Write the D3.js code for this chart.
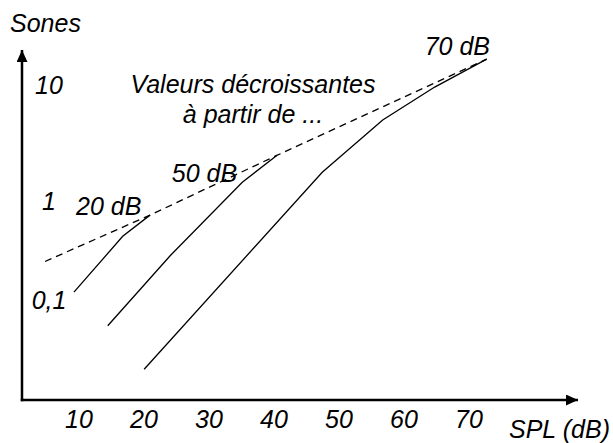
<!DOCTYPE html>
<html>
<head>
<meta charset="utf-8">
<script src="https://cdn.jsdelivr.net/npm/d3@7"></script>
<style>
  html, body { margin: 0; padding: 0; background: #fff; }
  svg text { font-family: "Liberation Sans", Arial, Helvetica, sans-serif; font-style: italic; font-size: 25px; fill: #000; }
</style>
</head>
<body>
<svg id="chart" width="613" height="443"></svg>
<script>
// ---- data ----
const xTicks = [10, 20, 30, 40, 50, 60, 70];
const yTicks = [10, 1, 0.1];
const yTickLabels = ["10", "1", "0,1"];
const xTitle = "SPL (dB)";
const yTitle = "Sones";

// curves : SPL (dB) vs sones
const curve20 = [[9.3, 0.12], [16.8, 0.44], [21.0, 0.72]];
const curve50 = [[14.5, 0.055], [24.1, 0.28], [35.2, 1.45], [40.5, 2.47]];
const curve70 = [[20.1, 0.020], [47.5, 1.77], [56.8, 5.0], [64.8, 9.6], [72.8, 16.7]];
// envelope (dashed) through the maxima
const envelope = [[4.85, 0.245], [21.0, 0.72], [40.5, 2.47], [72.8, 16.7]];

const curveLabels = [
  { text: "20 dB", x: 21.0, y: 0.72 },
  { text: "50 dB", x: 40.5, y: 2.47 },
  { text: "70 dB", x: 72.8, y: 16.7 }
];
const noteLines = ["Valeurs décroissantes", "à partir de ..."];

// ---- scales ----
const x = d3.scaleLinear().domain([10, 70]).range([78.5, 468.5]);
const y = d3.scaleLog().domain([0.1, 1, 10]).range([300, 201, 85]);

const svg = d3.select("#chart");
const FONT = "'Liberation Sans', Arial, sans-serif";

// axes lines with arrows
const axisX0 = 22, axisY0 = 400;
svg.append("defs").append("marker")
  .attr("id", "arrow").attr("viewBox", "0 0 12 11")
  .attr("refX", 12).attr("refY", 5.5)
  .attr("markerWidth", 12).attr("markerHeight", 11)
  .attr("markerUnits", "userSpaceOnUse")
  .attr("orient", "auto")
  .append("path").attr("d", "M0,0 L12,5.5 L0,11 Z").attr("fill", "#000");

svg.append("line").attr("x1", axisX0).attr("y1", axisY0 + 1.25).attr("x2", axisX0).attr("y2", 50)
  .attr("stroke", "#000").attr("stroke-width", 2.5).attr("marker-end", "url(#arrow)");
svg.append("line").attr("x1", axisX0 - 1.25).attr("y1", axisY0).attr("x2", 578).attr("y2", axisY0)
  .attr("stroke", "#000").attr("stroke-width", 2.5).attr("marker-end", "url(#arrow)");

// x tick labels via axis generator (no lines)
const gx = svg.append("g").attr("transform", `translate(0,${axisY0})`)
  .call(d3.axisBottom(x).tickValues(xTicks).tickSize(0).tickPadding(0).tickFormat(d3.format("d")));
gx.select(".domain").remove();
gx.selectAll("text").attr("dy", null).attr("y", 28)
  .style("font-family", FONT).style("font-size", "25px").style("font-style", "italic");

// y tick labels
const gy = svg.append("g").attr("transform", "translate(49,0)")
  .call(d3.axisLeft(y).tickValues(yTicks).tickSize(0).tickPadding(0)
    .tickFormat((d, i) => yTickLabels[i]));
gy.select(".domain").remove();
gy.selectAll("text").attr("text-anchor", "middle").attr("x", 0).attr("dy", "0.34em")
  .style("font-family", FONT).style("font-size", "25px").style("font-style", "italic");

// titles
svg.append("text").attr("x", 10).attr("y", 32).text(yTitle);
svg.append("text").attr("x", 509).attr("y", 438).text(xTitle);

// lines
const line = d3.line().x(d => x(d[0])).y(d => y(d[1]));
svg.append("path").datum(envelope).attr("d", line)
  .attr("fill", "none").attr("stroke", "#000").attr("stroke-width", 1.3).attr("stroke-dasharray", "7,5");
[curve20, curve50, curve70].forEach(c => {
  svg.append("path").datum(c).attr("d", line)
    .attr("fill", "none").attr("stroke", "#000").attr("stroke-width", 1.3);
});

// curve labels
const labelOffsets = [[-74, 0], [-105, 27], [-62, -4]];
curveLabels.forEach((l, i) => {
  svg.append("text")
    .attr("x", x(l.x) + labelOffsets[i][0])
    .attr("y", y(l.y) + labelOffsets[i][1])
    .text(l.text);
});

// note
svg.append("text").attr("x", 253).attr("y", 93).attr("text-anchor", "middle")
  .selectAll("tspan").data(noteLines).join("tspan")
  .attr("x", 253).attr("dy", (d, i) => i === 0 ? 0 : 30).text(d => d);
</script>
</body>
</html>
